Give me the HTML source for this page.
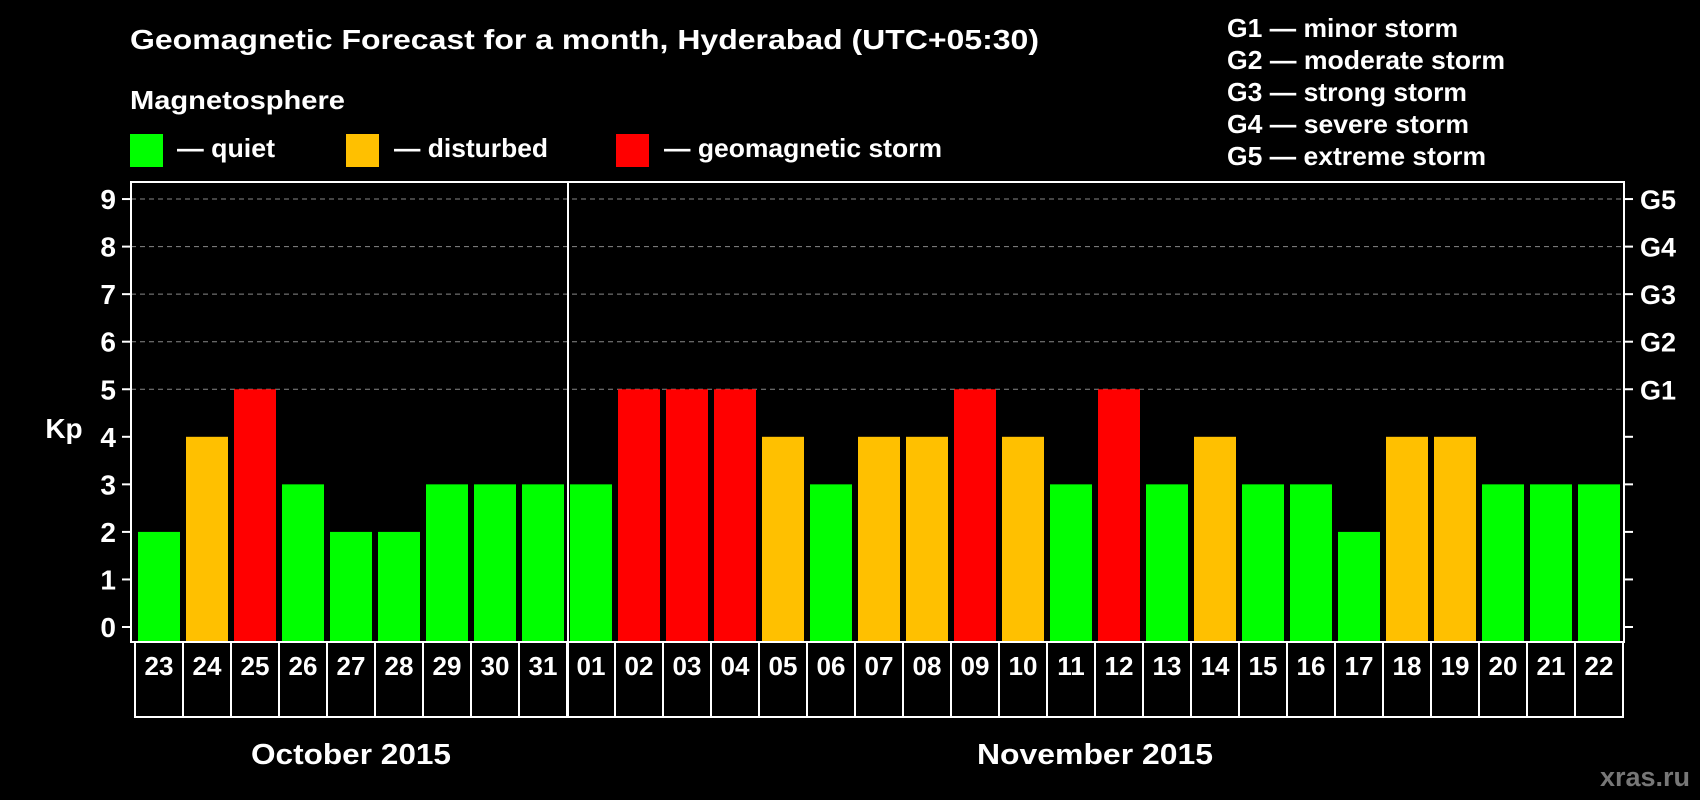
<!DOCTYPE html>
<html><head><meta charset="utf-8"><style>
html,body{margin:0;padding:0;background:#000;}
svg{display:block;font-family:"Liberation Sans",Arial,sans-serif;font-weight:bold;}
</style></head><body>
<svg id="chart" width="1700" height="800" viewBox="0 0 1700 800">
<rect width="1700" height="800" fill="#000"/>
<text x="130" y="49" fill="#fff" font-size="28" textLength="909" lengthAdjust="spacingAndGlyphs">Geomagnetic Forecast for a month, Hyderabad (UTC+05:30)</text>
<text x="130" y="109" fill="#fff" font-size="26" textLength="215" lengthAdjust="spacingAndGlyphs">Magnetosphere</text>
<g><rect x="130" y="134" width="33" height="33" fill="#00ff00"/><text x="177" y="157" fill="#fff" font-size="26" textLength="98" lengthAdjust="spacingAndGlyphs">— quiet</text></g>
<g><rect x="346" y="134" width="33" height="33" fill="#ffc000"/><text x="394" y="157" fill="#fff" font-size="26" textLength="154" lengthAdjust="spacingAndGlyphs">— disturbed</text></g>
<g><rect x="616" y="134" width="33" height="33" fill="#ff0000"/><text x="664" y="157" fill="#fff" font-size="26" textLength="278" lengthAdjust="spacingAndGlyphs">— geomagnetic storm</text></g>
<g fill="#fff" font-size="26">
<text x="1227" y="37" textLength="231" lengthAdjust="spacingAndGlyphs">G1 — minor storm</text>
<text x="1227" y="69" textLength="278" lengthAdjust="spacingAndGlyphs">G2 — moderate storm</text>
<text x="1227" y="101" textLength="240" lengthAdjust="spacingAndGlyphs">G3 — strong storm</text>
<text x="1227" y="133" textLength="242" lengthAdjust="spacingAndGlyphs">G4 — severe storm</text>
<text x="1227" y="165" textLength="259" lengthAdjust="spacingAndGlyphs">G5 — extreme storm</text>
</g>
<g id="plot"></g>
<text x="64" y="438" fill="#fff" font-size="28" text-anchor="middle">Kp</text>
<text x="351" y="764" fill="#fff" font-size="29" text-anchor="middle" textLength="200" lengthAdjust="spacingAndGlyphs">October 2015</text>
<text x="1095" y="764" fill="#fff" font-size="29" text-anchor="middle" textLength="236" lengthAdjust="spacingAndGlyphs">November 2015</text>
<text x="1690" y="786" fill="#777" font-size="27" text-anchor="end">xras.ru</text>
</svg>
<script>
const days = ["23","24","25","26","27","28","29","30","31","01","02","03","04","05","06","07","08","09","10","11","12","13","14","15","16","17","18","19","20","21","22"];
const kpValues = [2,4,5,3,2,2,3,3,3,3,5,5,5,4,3,4,4,5,4,3,5,3,4,3,3,2,4,4,3,3,3];
const yTicks = [0,1,2,3,4,5,6,7,8,9];
const gLabels = {5:"G1",6:"G2",7:"G3",8:"G4",9:"G5"};
(function(){
const NS="http://www.w3.org/2000/svg";
const plot=document.getElementById('plot');
const pLeft=131,pRight=1624,pTop=182,pBottom=642,y0=627,unit=47.55,step=48,x0=135;
function yS(v){return y0-v*unit;}
function xS(i){return x0+i*step;}
function mk(tag,attrs,txt){const e=document.createElementNS(NS,tag);for(const k in attrs)e.setAttribute(k,attrs[k]);if(txt!=null)e.textContent=txt;plot.appendChild(e);return e;}
yTicks.forEach(v=>{
  const y=yS(v);
  if(v>=5){const g=mk('line',{x1:pLeft,x2:pRight,y1:y,y2:y,stroke:'#888','stroke-width':1,'stroke-dasharray':'5,4'});
  
  }
  const t1=mk('line',{x1:pLeft-9,x2:pLeft,y1:y,y2:y,stroke:'#fff','stroke-width':2});
  
  
  const t2=mk('line',{x1:pRight,x2:pRight+9,y1:y,y2:y,stroke:'#fff','stroke-width':2});
  
  
  const l=mk('text',{x:116,y:y+10,fill:'#fff','font-size':28,'text-anchor':'end'},String(v));
  
  
  if(gLabels[v]){const g=mk('text',{x:1640,y:y+10,fill:'#fff','font-size':27},gLabels[v]);
  
  }
});
kpValues.forEach((v,i)=>{
  const c=v>=5?'#ff0000':(v>=4?'#ffc000':'#00ff00');
  const b=mk('rect',{x:xS(i)+3,y:yS(v),width:42,height:pBottom-yS(v),fill:c});
  
  
  const box=mk('rect',{x:xS(i),y:pBottom,width:step,height:75,fill:'none',stroke:'#fff','stroke-width':2});
  
  
  const t=mk('text',{x:xS(i)+step/2,y:pBottom+33,fill:'#fff','font-size':26,'text-anchor':'middle'},days[i]);
  
  
});
const fr=mk('rect',{x:pLeft,y:pTop,width:pRight-pLeft,height:pBottom-pTop,fill:'none',stroke:'#fff','stroke-width':2});


const di=days.indexOf("01");
const dv=mk('line',{x1:xS(di)+1,x2:xS(di)+1,y1:pTop,y2:pBottom+75,stroke:'#fff','stroke-width':2});


})();
</script>
</body></html>
